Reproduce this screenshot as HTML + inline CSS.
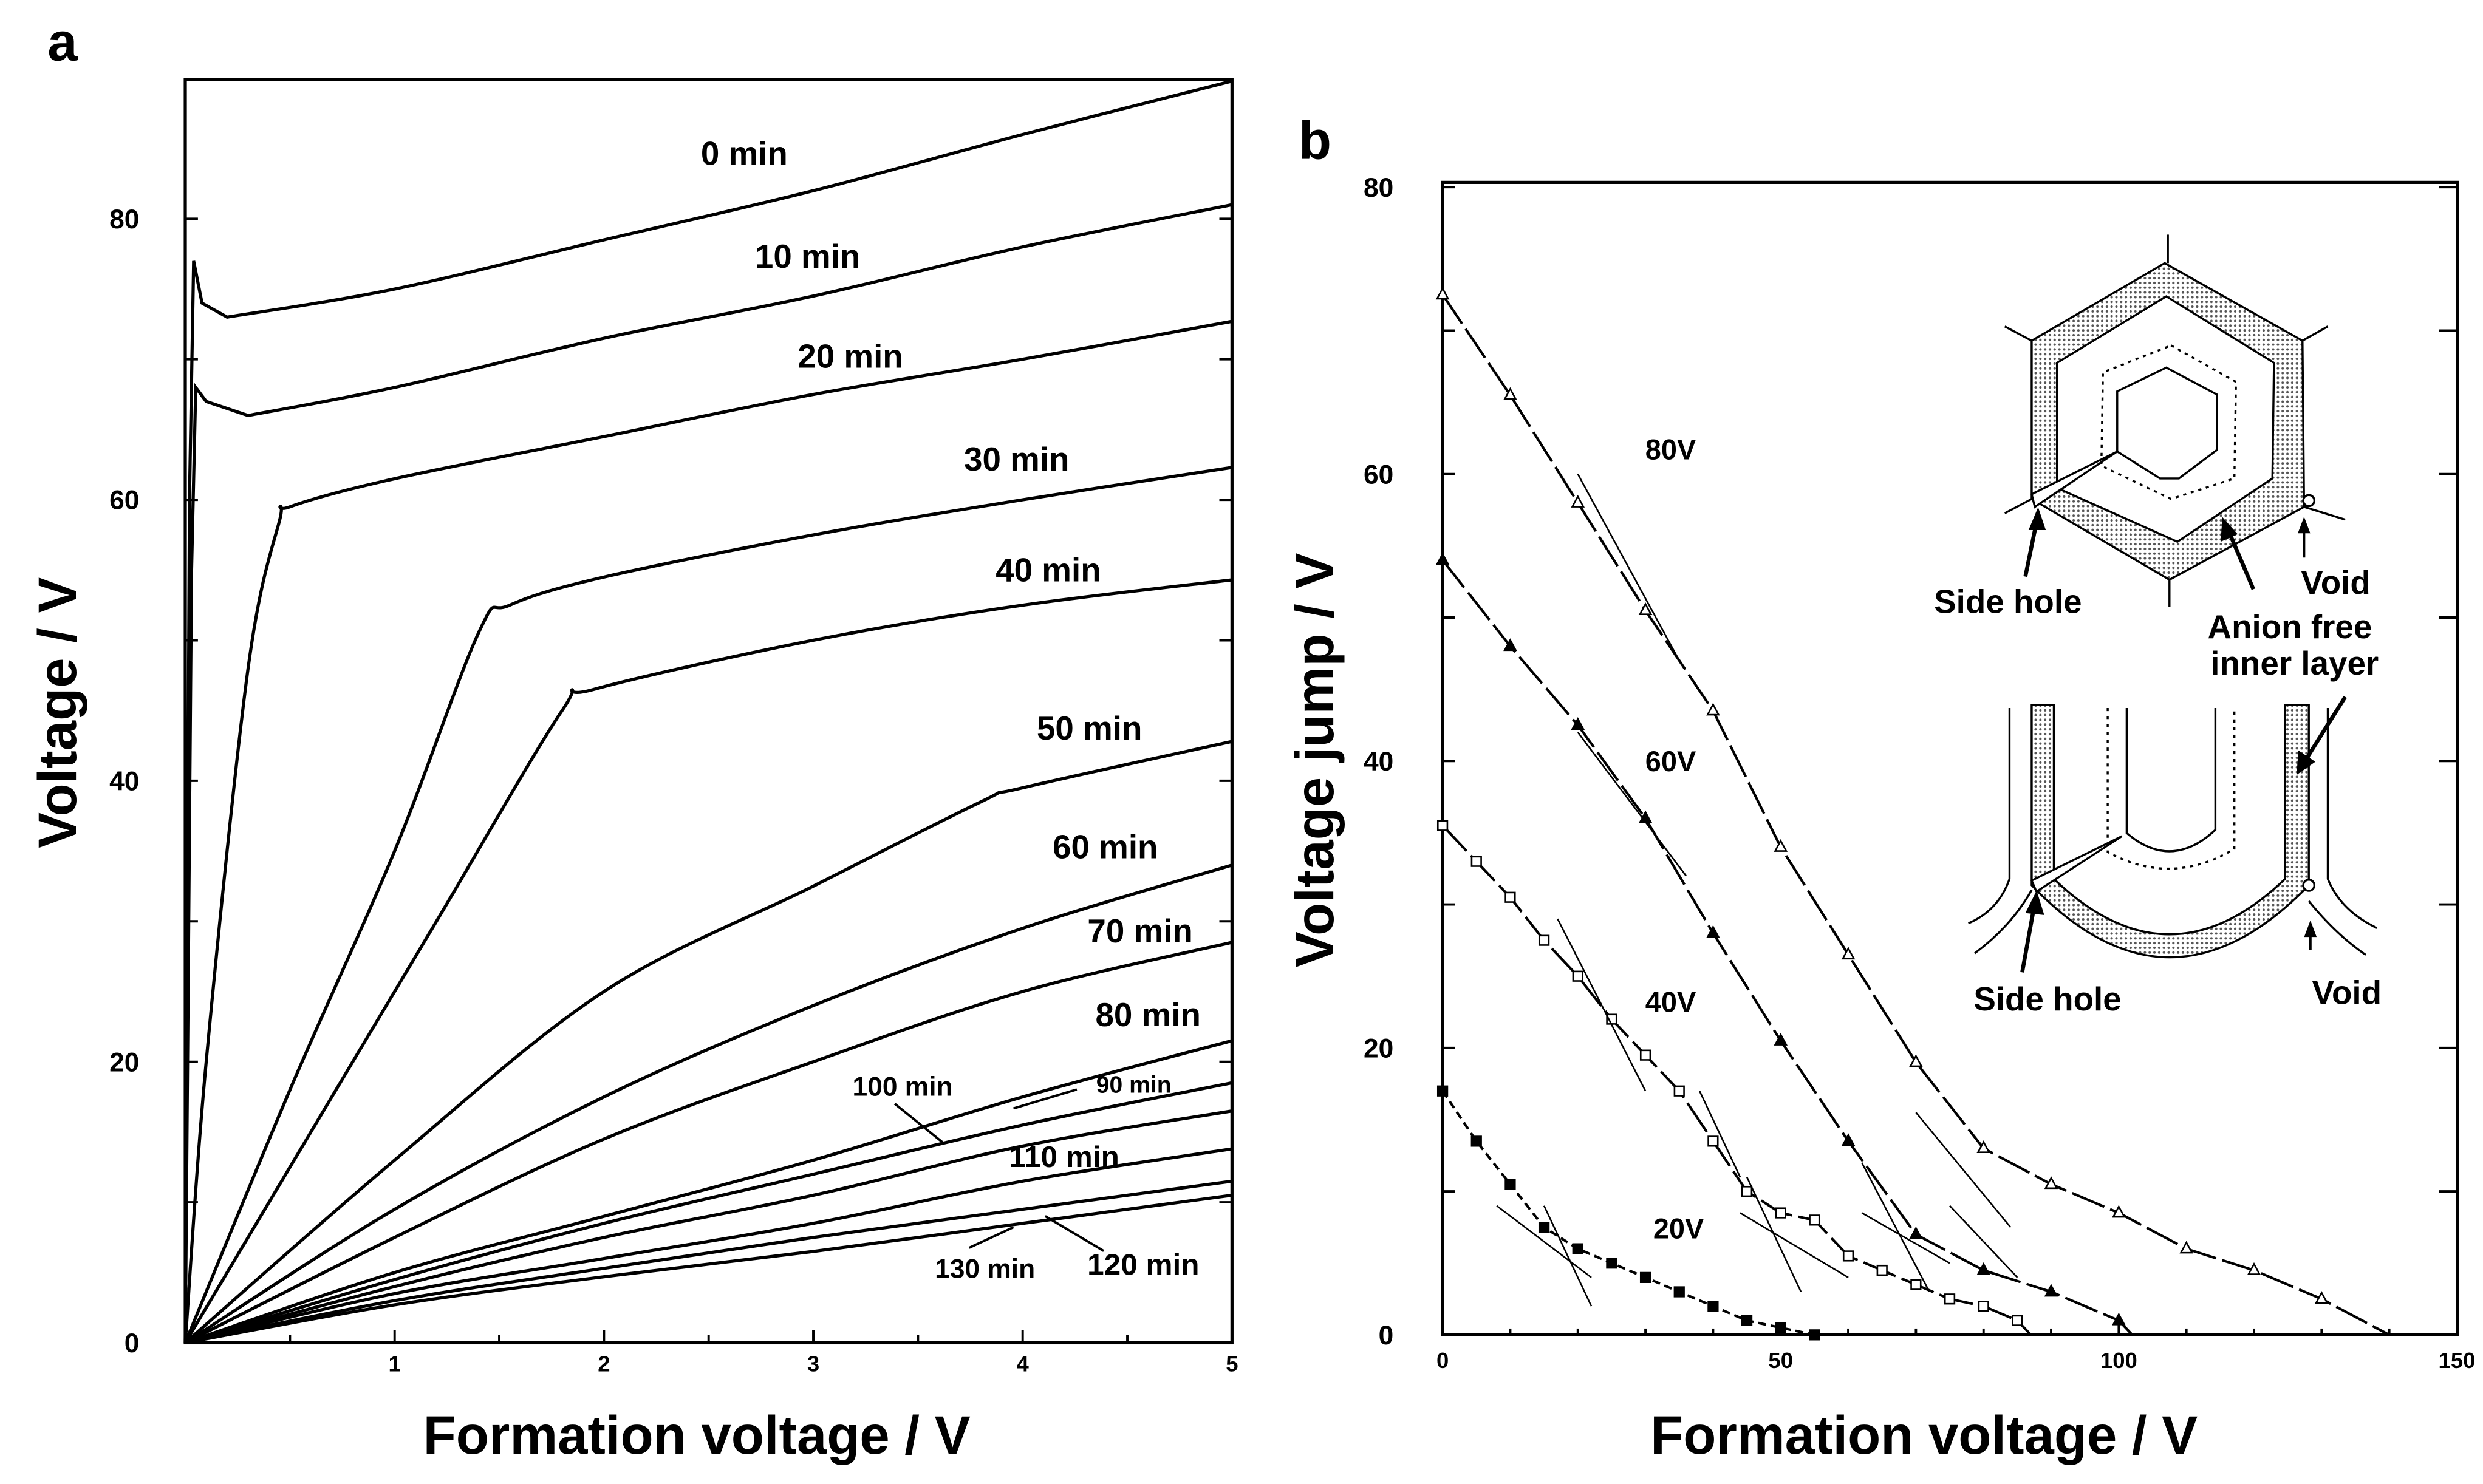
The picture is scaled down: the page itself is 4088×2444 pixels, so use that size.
<!DOCTYPE html>
<html><head><meta charset="utf-8"><style>
html,body{margin:0;padding:0;background:#fff}
svg{display:block}
text{font-family:"Liberation Sans",sans-serif;font-weight:bold;fill:#000}
</style></head><body>
<svg id="s" width="4088" height="2444" viewBox="0 0 1568 937" xmlns="http://www.w3.org/2000/svg">
<defs>
<pattern id="dots" width="3" height="3" patternUnits="userSpaceOnUse"><rect width="3" height="3" fill="#fff"/><circle cx="1.5" cy="1.5" r="0.8" fill="#555"/></pattern>
</defs>
<text x="30" y="38" font-size="34">a</text>
<text x="820" y="100" font-size="34">b</text>
<g id="pa"></g>
<g id="pb"></g>
<g id="inset" stroke="#000" stroke-width="1.3" fill="none">
 <polygon points="1367,166 1454,215 1455,320 1370,366 1283,315 1283,215" fill="url(#dots)"/>
 <polygon points="1368,187 1436,229 1435,302 1375,342 1299,308 1299,229" fill="#fff"/>
 <polygon points="1371,218 1412,241 1411,302 1371,315 1327,294 1328,235" stroke-dasharray="2,3"/>
 <polygon points="1368,232 1400,249 1400,284 1376,302 1364,302 1337,285 1337,247"/>
 <line x1="1369" y1="148" x2="1369" y2="166"/><line x1="1266" y1="206" x2="1283" y2="215"/>
 <line x1="1454" y1="215" x2="1470" y2="206"/><line x1="1455" y1="320" x2="1481" y2="328"/>
 <line x1="1266" y1="324" x2="1283" y2="315"/><line x1="1370" y1="366" x2="1370" y2="383"/>
 <polygon points="1283,312 1337,285 1285,320" fill="#fff"/>
 <circle cx="1458" cy="316" r="3.5" fill="#fff"/>
 <line x1="1279" y1="364" x2="1287" y2="325" stroke-width="2.5"/><polygon points="1287,322 1282,334 1291,334" fill="#000"/>
 <line x1="1423" y1="372" x2="1406" y2="332" stroke-width="2.5"/><polygon points="1404,328 1403,341 1412,337" fill="#000"/>
 <line x1="1455" y1="352" x2="1455" y2="332" stroke-width="1.5"/><polygon points="1455,328 1452,336 1458,336" fill="#000"/>
 <path d="M1283,445 L1283,559 Q1370,650 1458,559 L1458,445 L1443,445 L1443,555 Q1370,625 1297,555 L1297,445 Z" fill="url(#dots)"/>
 <path d="M1269,447 L1269,555 Q1262,575 1243,583"/><path d="M1470,447 L1470,555 Q1478,575 1501,586"/>
 <path d="M1247,602 Q1270,585 1283,562"/><path d="M1458,569 Q1475,590 1494,603"/>
 <path d="M1343,447 L1343,526 Q1371,550 1399,524 L1399,447"/>
 <path d="M1331,447 L1331,538 Q1371,560 1411,536 L1411,447" stroke-dasharray="2,3"/>
 <polygon points="1283,556 1340,528 1286,563" fill="#fff"/>
 <circle cx="1458" cy="559" r="3.5" fill="#fff"/>
 <line x1="1277" y1="614" x2="1285" y2="570" stroke-width="2.5"/><polygon points="1286,564 1280,576 1290,577" fill="#000"/>
 <line x1="1481" y1="440" x2="1454" y2="483" stroke-width="2.5"/><polygon points="1451,488 1452,475 1461,481" fill="#000"/>
 <line x1="1459" y1="600" x2="1459" y2="587" stroke-width="1.5"/><polygon points="1459,583 1456,591 1462,591" fill="#000"/>
</g>
<g font-size="21">
 <text x="1268" y="387" text-anchor="middle">Side hole</text>
 <text x="1475" y="375" text-anchor="middle">Void</text>
 <text x="1446" y="403" text-anchor="middle">Anion free</text>
 <text x="1449" y="426" text-anchor="middle">inner layer</text>
 <text x="1293" y="638" text-anchor="middle">Side hole</text>
 <text x="1482" y="634" text-anchor="middle">Void</text>
</g>
</svg>
<script>
// ---- Panel a data ----
const aLabels=["0 min","10 min","20 min","30 min","40 min","50 min","60 min","70 min","80 min","90 min","100 min","110 min","120 min","130 min"];
const aX0=[0,0.02,0.04,0.08,0.2,1,2,3,4,5];
const aY0=[0,60,77,74,73,75,78.5,82,86,89.8];
const aX10=[0,0.03,0.05,0.1,0.3,1,2,3,4,5];
const aY10=[0,55,68,67,66,68,71.5,74.5,78,81];
const aX20=[0,0.1,0.3,0.45,0.5,1,2,3,4,5];
const aY20=[0,20,48,58.5,59.5,61.5,64.5,67.5,70,72.7];
const aX30=[0,0.5,1,1.4,1.55,2,3,4,5];
const aY30=[0,18,35,50.5,52.5,54.5,57.5,60,62.3];
const aX40=[0,0.6,1.2,1.8,1.95,3,4,5];
const aY40=[0,15,30,45,46.5,50,52.5,54.3];
const aX50=[0,1,2,3,3.8,4,5];
const aY50=[0,13,25,32.5,38.5,39.5,42.8];
const aX60=[0,1,2,3,4,5];
const aY60=[0,9.5,17.5,24,29.5,34];
const aY70=[0,7.5,14.5,20,25,28.5];
const aY80=[0,5,9,13,17.5,21.5];
const aY90=[0,4.5,8.5,12,15.5,18.5];
const aY100=[0,4,7.5,10.5,14,16.5];
const aY110=[0,3.5,6,8.5,11.5,13.8];
const aY120=[0,3,5.3,7.5,9.5,11.5];
const aY130=[0,2.7,4.7,6.5,8.5,10.5];
const aXTicks=[1,2,3,4,5];
const aYTicks=[0,20,40,60,80];

// ---- Panel b data ----
const bX80=[0,10,20,30,40,50,60,70,80,90,100,110,120,130];
const bY80=[72.5,65.5,58,50.5,43.5,34,26.5,19,13,10.5,8.5,6,4.5,2.5];
const bX60=[0,10,20,30,40,50,60,70,80,90,100];
const bY60=[54,48,42.5,36,28,20.5,13.5,7,4.5,3,1];
const bX40=[0,5,10,15,20,25,30,35,40,45,50,55,60,65,70,75,80,85];
const bY40=[35.5,33,30.5,27.5,25,22,19.5,17,13.5,10,8.5,8,5.5,4.5,3.5,2.5,2,1];
const bX20=[0,5,10,15,20,25,30,35,40,45,50,55];
const bY20=[17,13.5,10.5,7.5,6,5,4,3,2,1,0.5,0];
const bXEnd=[140,102,87,55];
const bXTicks=[0,50,100,150];
const bYTicks=[0,20,40,60,80];
const bLabels=["80V","60V","40V","20V"];

const NS="http://www.w3.org/2000/svg";
function mk(p,tag,at){const e=document.createElementNS(NS,tag);for(const k in at)e.setAttribute(k,at[k]);p.appendChild(e);return e;}
function smooth(pts){let d="M"+pts[0][0]+","+pts[0][1];
 for(let i=0;i<pts.length-1;i++){const p0=pts[i-1]||pts[i],p1=pts[i],p2=pts[i+1],p3=pts[i+2]||p2;
  const c1=[p1[0]+(p2[0]-p0[0])/6,p1[1]+(p2[1]-p0[1])/6],c2=[p2[0]-(p3[0]-p1[0])/6,p2[1]-(p3[1]-p1[1])/6];
  d+=" C"+c1[0]+","+c1[1]+" "+c2[0]+","+c2[1]+" "+p2[0]+","+p2[1];}return d;}

// Panel a
const pa=document.getElementById('pa');
const AL=117,AR=778,AT=50,AB=848;
const ax=v=>AL+v*(AR-AL)/5, ay=v=>AB-v*(AB-138)/80;
let fr=mk(pa,'rect',{x:AL,y:AT,width:AR-AL,height:AB-AT,fill:'none',stroke:'#000','stroke-width':2});


for(let v=0;v<=90;v+=10){const y=ay(v);if(y<AT)continue;
 mk(pa,'line',{x1:AL,y1:y,x2:AL+8,y2:y,stroke:'#000','stroke-width':1.5});
 mk(pa,'line',{x1:AR-8,y1:y,x2:AR,y2:y,stroke:'#000','stroke-width':1.5});}
for(let v=0.5;v<=5;v+=0.5){mk(pa,'line',{x1:ax(v),y1:AB,x2:ax(v),y2:AB-(v%1===0?8:5),stroke:'#000','stroke-width':1.5});}
aYTicks.forEach(v=>{const t=mk(pa,'text',{x:88,y:ay(v)+6,'font-size':17,'text-anchor':'end'});t.textContent=v;
 
 });
mk(pa,'text',{x:75,y:854,'font-size':17,'text-anchor':'end'}).textContent="";
aXTicks.forEach(v=>{const t=mk(pa,'text',{x:ax(v),y:866,'font-size':14,'text-anchor':'middle'});t.textContent=v;
 
 });
let t=mk(pa,'text',{x:440,y:918,'font-size':34,'text-anchor':'middle'});t.textContent="Formation voltage / V";


t=mk(pa,'text',{x:0,y:0,'font-size':34,'text-anchor':'middle',transform:'translate(48,450) rotate(-90)'});t.textContent="Voltage / V";


const aSeries=[[aX0,aY0],[aX10,aY10],[aX20,aY20],[aX30,aY30],[aX40,aY40],[aX50,aY50],[aX60,aY60],[aX60,aY70],[aX60,aY80],[aX60,aY90],[aX60,aY100],[aX60,aY110],[aX60,aY120],[aX60,aY130]];
aSeries.forEach((s,i)=>{const pts=s[0].map((x,j)=>[ax(x),ay(s[1][j])]);
 const p=mk(pa,'path',{d:(i<2?"M"+pts.slice(0,5).map(q=>q.join(",")).join(" L")+smooth(pts.slice(4)).replace(/^M[^ ]+/,""):smooth(pts)),fill:'none',stroke:'#000','stroke-width':2});
 
 });
const aLabPos=[[470,104,21],[510,169,21],[537,232,21],[642,297,21],[662,367,21],[688,467,21],[698,542,21],[720,595,21],[725,648,21],[716,690,15],[570,692,17],[672,737,19],[722,805,19],[622,807,17]];
aLabPos.forEach((q,i)=>{const e=mk(pa,'text',{x:q[0],y:q[1],'font-size':q[2],'text-anchor':'middle'});e.textContent=aLabels[i];
 
 });
[[565,697,596,722],[680,688,640,700],[612,788,640,775],[697,790,660,768]].forEach(l=>mk(pa,'line',{x1:l[0],y1:l[1],x2:l[2],y2:l[3],stroke:'#000','stroke-width':1.5}));

// Panel b
const pb=document.getElementById('pb');
const BL=911,BR=1552,BT=115,BB=843;
const bx=v=>BL+v*(1338-BL)/100, by=v=>BB-v*(BB-118)/80;
fr=mk(pb,'rect',{x:BL,y:BT,width:BR-BL,height:BB-BT,fill:'none',stroke:'#000','stroke-width':2});


for(let v=0;v<=80;v+=10){const y=by(v);
 mk(pb,'line',{x1:BL,y1:y,x2:BL+8,y2:y,stroke:'#000','stroke-width':1.5});
 mk(pb,'line',{x1:BR-12,y1:y,x2:BR,y2:y,stroke:'#000','stroke-width':1.5});}
for(let v=10;v<=140;v+=10){mk(pb,'line',{x1:bx(v),y1:BB,x2:bx(v),y2:BB-(v%50===0?8:4),stroke:'#000','stroke-width':1.5});}
bYTicks.forEach(v=>{const e=mk(pb,'text',{x:880,y:by(v)+6,'font-size':17,'text-anchor':'end'});e.textContent=v;
 
 });
bXTicks.forEach(v=>{const e=mk(pb,'text',{x:bx(v),y:864,'font-size':14,'text-anchor':'middle','font-weight':'normal'});e.textContent=v;
 
 });
t=mk(pb,'text',{x:1215,y:918,'font-size':34,'text-anchor':'middle'});t.textContent="Formation voltage / V";


t=mk(pb,'text',{x:0,y:0,'font-size':34,'text-anchor':'middle',transform:'translate(842,480) rotate(-90)'});t.textContent="Voltage jump / V";


const bSeries=[[bX80,bY80,'tri',false],[bX60,bY60,'tri',true],[bX40,bY40,'sq',false],[bX20,bY20,'sq',true]];
bSeries.forEach((s,i)=>{const pts=s[0].map((x,j)=>[bx(x),by(s[1][j])]);pts.push([bx(bXEnd[i]),by(0)]);
 const p=mk(pb,'polyline',{points:pts.map(q=>q.join(",")).join(" "),fill:'none',stroke:'#000','stroke-width':1.6,'stroke-dasharray':i===3?'5,3':'22,4'});
 
 
 s[0].forEach((x,j)=>{const cx=bx(x),cy=by(s[1][j]);let m;
  if(s[2]==='tri')m=mk(pb,'polygon',{points:`${cx},${cy-4} ${cx-3.5},${cy+2.5} ${cx+3.5},${cy+2.5}`,fill:s[3]?'#000':'#fff',stroke:'#000','stroke-width':1});
  else m=mk(pb,'rect',{x:cx-3,y:cy-3,width:6,height:6,fill:s[3]?'#000':'#fff',stroke:'#000','stroke-width':1});
  
  });});
const tang=[[20,60,35,47],[70,15.5,84,7.5],[75,9,85,4],[20,42,36,32],[62,8.5,75,5],[62,12,72,3],[17,29,30,17],[38,17,44,11],[45,11,53,3],[44,8.5,60,4],[8,9,22,4],[15,9,22,2]];
tang.forEach(l=>mk(pb,'line',{x1:bx(l[0]),y1:by(l[1]),x2:bx(l[2]),y2:by(l[3]),stroke:'#000','stroke-width':1}));
[[1055,290],[1055,487],[1055,639],[1060,782]].forEach((q,i)=>{const e=mk(pb,'text',{x:q[0],y:q[1],'font-size':18,'text-anchor':'middle','font-weight':'normal','font-family':'Liberation Mono, monospace'});e.textContent=bLabels[i];
 
 });
</script>
</body></html>
